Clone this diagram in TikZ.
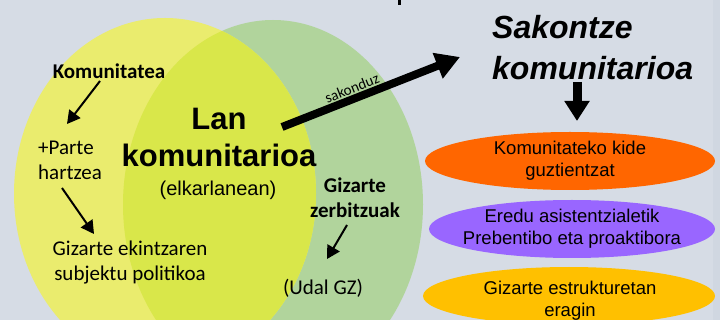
\documentclass[tikz,border=0pt]{standalone}
\usepackage{fontspec}
\setmainfont{Liberation Sans}
\newfontfamily\calfont{Carlito}
\usetikzlibrary{arrows.meta}
\definecolor{bg}{HTML}{D6DCE5}
\definecolor{bgedge}{HTML}{D0D7E1}
\definecolor{grn}{HTML}{B1D49C}
\definecolor{ylw}{HTML}{EAEC6E}
\definecolor{ovl}{HTML}{D9E74A}
\definecolor{orng}{HTML}{FF6600}
\definecolor{prpl}{HTML}{9966FF}
\definecolor{gold}{HTML}{FFC000}
\tikzset{
  cal/.style={inner sep=0pt, align=center, font=\calfont\fontsize{21}{25}\selectfont},
  calb/.style={cal, font=\calfont\bfseries\fontsize{21}{25}\selectfont},
  thin arrow/.style={line width=2pt, -{Triangle[length=13pt,width=14pt]}},
  thick arrow/.style={line width=8pt, -{Triangle[length=24pt,width=26pt]}},
  ovaltext/.style={inner sep=0pt, align=center, font=\fontsize{18.5}{22}\selectfont},
}
\begin{document}
\begin{tikzpicture}[x=1pt,y=-1pt]
\useasboundingbox (0,0) rectangle (720,320);
\fill[bg] (0,0) rectangle (720,320);
\fill[bgedge] (713,0) rectangle (720,320);
\fill[black] (398,0) rectangle (400.5,5);
% Venn
\fill[grn] (273,204.5) ellipse [x radius=150pt, y radius=184.5pt];
\fill[ylw] (165,193.7) ellipse [x radius=151pt, y radius=175.7pt];
\begin{scope}
\clip (273,204.5) ellipse [x radius=150pt, y radius=184.5pt];
\fill[ovl] (165,193.7) ellipse [x radius=151pt, y radius=175.7pt];
\end{scope}
% left texts
\node[calb] (kom) at (109,71) {Komunitatea};
\node[cal, align=left, anchor=west] (parte) at (38,160.5) {+Parte\\hartzea};
\node[cal] (gizek) at (130,262.5) {Gizarte ekintzaren\\subjektu politikoa};
\coordinate (a1s) at (100,81);
\coordinate (a1e) at (67,124);
\coordinate (a2s) at (62,188);
\coordinate (a2e) at (94,234);
\draw[thin arrow] (a1s) -- (a1e);
\draw[thin arrow] (a2s) -- (a2e);
% centre
\node[inner sep=0pt, font=\bfseries\fontsize{31}{37}\selectfont, align=center] (lan) at (219,137.5) {Lan\\komunitarioa};
\node[inner sep=0pt, font=\fontsize{20}{24}\selectfont] (elk) at (218,190) {(elkarlanean)};
% right of venn
\node[calb] (gzerb) at (355,197.5) {Gizarte\\zerbitzuak};
\node[cal] (udal) at (323,288) {(Udal GZ)};
\coordinate (a3s) at (347,225);
\coordinate (a3e) at (327,259);
\draw[thin arrow] (a3s) -- (a3e);
% sakonduz arrow
\coordinate (s1) at (282,127);
\coordinate (s2) at (460,57);
\draw[thick arrow] (s1) -- (s2);
\node[inner sep=0pt, font=\calfont\fontsize{15}{18}\selectfont, rotate=21.6] (sak) at (352,88) {sakonduz};
% Sakontze komunitarioa
\node[inner sep=0pt, anchor=west, align=left, font=\bfseries\itshape\fontsize{32}{41}\selectfont] (sk) at (492,47.5) {Sakontze\\komunitarioa};
\coordinate (d1) at (577,82);
\coordinate (d2) at (577,121);
\draw[line width=9pt, -{Triangle[length=20pt,width=24pt]}] (d1) -- (d2);
% ovals
\fill[orng] (570,161) ellipse [x radius=145pt, y radius=29pt];
\node[ovaltext] (o1) at (570,161) {Komunitateko kide\\guztientzat};
\fill[prpl] (572,229) ellipse [x radius=143pt, y radius=29pt];
\node[ovaltext] (o2) at (572,228.5) {Eredu asistentzialetik\\Prebentibo eta proaktibora};
\fill[gold] (569,296) ellipse [x radius=146pt, y radius=29pt];
\node[ovaltext] (o3) at (570,301) {Gizarte estrukturetan\\eragin};
\end{tikzpicture}
\end{document}
